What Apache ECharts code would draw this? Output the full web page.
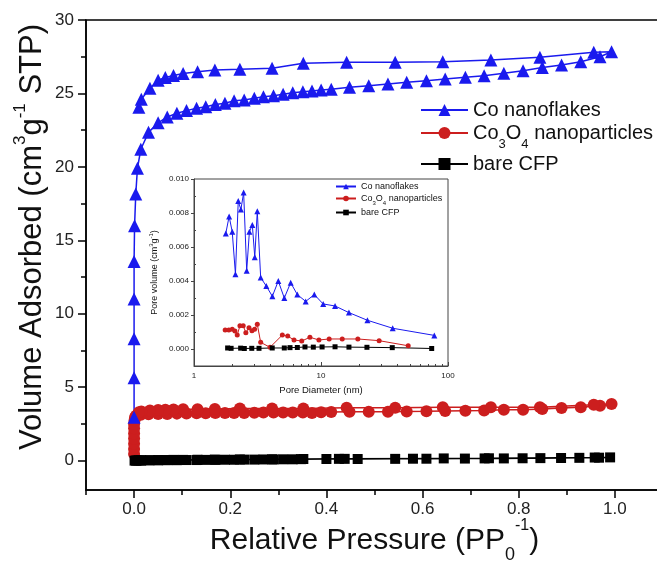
<!DOCTYPE html>
<html>
<head>
<meta charset="utf-8">
<script src="https://cdn.jsdelivr.net/npm/echarts@6/dist/echarts.min.js"></script>
<style>
  html, body { margin: 0; padding: 0; background: #fff; }
  #chart { width: 657px; height: 563px; }
</style>
</head>
<body>
<div id="chart"></div>
<script>
// ---- N2 isotherms (main plot) ----
const coAdsP = [0, 0, 0, 0, 0, 0.001, 0.0035, 0.007, 0.014, 0.03, 0.05, 0.069, 0.089, 0.109, 0.13, 0.149, 0.169, 0.189, 0.208, 0.229, 0.25, 0.269, 0.29, 0.31, 0.33, 0.351, 0.37, 0.389, 0.41, 0.448, 0.488, 0.528, 0.567, 0.608, 0.647, 0.689, 0.728, 0.769, 0.809, 0.849, 0.889, 0.929, 0.969, 0.993]
const coAdsV = [2.95, 5.65, 8.3, 11.0, 13.55, 16.0, 18.15, 19.9, 21.2, 22.35, 23.0, 23.4, 23.65, 23.83, 23.99, 24.1, 24.25, 24.33, 24.5, 24.56, 24.67, 24.78, 24.85, 24.95, 25.05, 25.12, 25.17, 25.24, 25.29, 25.42, 25.53, 25.65, 25.76, 25.87, 25.99, 26.1, 26.21, 26.37, 26.55, 26.76, 26.94, 27.16, 27.5, 27.84]
const coDesP = [0.956, 0.844, 0.742, 0.642, 0.543, 0.442, 0.352, 0.287, 0.22, 0.168, 0.132, 0.102, 0.082, 0.065, 0.05, 0.033, 0.015, 0.010]
const coDesV = [27.8, 27.46, 27.28, 27.16, 27.12, 27.12, 27.05, 26.71, 26.64, 26.6, 26.48, 26.35, 26.22, 26.08, 25.9, 25.35, 24.6, 24.06]

const oxAdsP = [0, 0, 0, 0, 0, 0, 0, 0.001, 0.002, 0.004, 0.007, 0.014, 0.03, 0.05, 0.069, 0.089, 0.109, 0.13, 0.149, 0.169, 0.189, 0.208, 0.229, 0.25, 0.269, 0.29, 0.31, 0.33, 0.351, 0.37, 0.389, 0.41, 0.448, 0.488, 0.528, 0.567, 0.608, 0.647, 0.689, 0.728, 0.769, 0.809, 0.849, 0.889, 0.929, 0.969, 0.993]
const oxAdsV = [0.45, 0.8, 1.15, 1.5, 1.85, 2.2, 2.5, 2.75, 2.95, 3.05, 3.1, 3.12, 3.15, 3.17, 3.18, 3.2, 3.21, 3.22, 3.23, 3.24, 3.24, 3.25, 3.25, 3.26, 3.27, 3.27, 3.28, 3.28, 3.28, 3.25, 3.3, 3.31, 3.32, 3.33, 3.33, 3.35, 3.36, 3.38, 3.4, 3.42, 3.47, 3.47, 3.52, 3.58, 3.63, 3.74, 3.86]
const oxDesP = [0.956, 0.844, 0.742, 0.642, 0.543, 0.442, 0.352, 0.287, 0.22, 0.168, 0.132, 0.102, 0.082, 0.065, 0.05, 0.033, 0.015, 0.010]
const oxDesV = [3.81, 3.63, 3.63, 3.63, 3.6, 3.6, 3.55, 3.55, 3.55, 3.52, 3.5, 3.5, 3.48, 3.47, 3.45, 3.42, 3.35, 3.3]

const cfpAdsP = [0.001, 0.004, 0.007, 0.014, 0.03, 0.05, 0.069, 0.089, 0.109, 0.13, 0.149, 0.169, 0.189, 0.208, 0.229, 0.25, 0.269, 0.29, 0.31, 0.33, 0.347, 0.40, 0.465, 0.543, 0.58, 0.608, 0.688, 0.729, 0.769, 0.808, 0.845, 0.888, 0.926, 0.967, 0.99]
const cfpAdsV = [0.0, 0.0, 0.01, 0.01, 0.02, 0.02, 0.03, 0.03, 0.04, 0.04, 0.05, 0.05, 0.06, 0.06, 0.07, 0.07, 0.08, 0.08, 0.09, 0.09, 0.10, 0.11, 0.11, 0.12, 0.13, 0.13, 0.14, 0.15, 0.15, 0.16, 0.17, 0.18, 0.19, 0.20, 0.22]
const cfpDesP = [0.958, 0.738, 0.644, 0.438, 0.426, 0.352, 0.287, 0.22, 0.168, 0.132, 0.102, 0.082, 0.065, 0.05, 0.033, 0.015, 0.010]
const cfpDesV = [0.21, 0.16, 0.15, 0.12, 0.12, 0.11, 0.09, 0.08, 0.07, 0.06, 0.05, 0.05, 0.04, 0.04, 0.03, 0.02, 0.02]

// ---- pore size distribution (inset) ----
const coPoreD = [1.78, 1.89, 2.0, 2.12, 2.23, 2.34, 2.46, 2.6, 2.73, 2.88, 3.01, 3.15, 3.35, 3.71, 4.14, 4.61, 5.14, 5.77, 6.51, 7.58, 8.86, 10.4, 12.9, 16.6, 23.2, 36.7, 78]
const coPoreV = [0.0068, 0.0078, 0.0069, 0.0044, 0.0087, 0.0082, 0.0092, 0.0046, 0.0069, 0.0073, 0.0054, 0.0081, 0.0042, 0.0037, 0.0031, 0.0040, 0.0030, 0.0039, 0.0032, 0.0028, 0.0032, 0.00265, 0.00253, 0.00214, 0.00169, 0.00122, 0.0008]
const oxPoreD = [1.76, 1.88, 2.0, 2.1, 2.19, 2.3, 2.44, 2.56, 2.71, 2.86, 3.0, 3.15, 3.35, 3.97, 4.96, 5.47, 6.13, 7.05, 8.18, 9.63, 11.6, 14.7, 19.5, 28.7, 48.6]
const oxPoreV = [0.00112, 0.00112, 0.00116, 0.00106, 0.00082, 0.00137, 0.00137, 0.00096, 0.00125, 0.00108, 0.00116, 0.00145, 0.00039, 0.0001, 0.00082, 0.00076, 0.00053, 0.00047, 0.00069, 0.00053, 0.00059, 0.00059, 0.00059, 0.00049, 0.00019]
const cfpPoreD = [1.84, 1.96, 2.33, 2.49, 2.85, 3.25, 4.13, 5.14, 5.7, 6.51, 7.48, 8.7, 10.2, 12.9, 16.6, 23.0, 36.4, 74.4]
const cfpPoreV = [0.00006, 0.00004, 0.00005, 0.00003, 0.00004, 0.00004, 0.00006, 0.00006, 0.00008, 0.00009, 0.00012, 0.00011, 0.00012, 0.00013, 0.00011, 0.0001, 0.00008, 0.00003]

// ---- ticks ----
const xMajor = [0, 0.2, 0.4, 0.6, 0.8, 1.0]
const xMinor = [-0.1, 0.1, 0.3, 0.5, 0.7, 0.9]
const yMajor = [0, 5, 10, 15, 20, 25, 30]
const yMinor = [2.5, 7.5, 12.5, 17.5, 22.5, 27.5]
const inXMinor = [2, 3, 4, 5, 6, 7, 8, 9, 20, 30, 40, 50, 60, 70, 80, 90]
const inYMajor = [0, 0.002, 0.004, 0.006, 0.008, 0.010]
const inYMinor = [0.001, 0.003, 0.005, 0.007, 0.009]

const names = ['Co nanoflakes', 'Co3O4 nanoparticles', 'bare CFP']

const BLUE = '#1a1aee'
const RED = '#cc1e1e'
const FONT = '"Liberation Sans", Arial, sans-serif'

const pairs = (xs, ys) => xs.map((x, i) => [x, ys[i]])
const legendName = name => name === 'Co3O4 nanoparticles'
  ? '{m|Co}{s|3}{m|O}{s|4}{m| nanoparticles}'
  : '{n|' + name + '}'

const chart = echarts.init(document.getElementById('chart'))

const minorAxis = (gridIndex, values, extra) => Object.assign({
  gridIndex,
  axisLine: { show: false, onZero: false },
  axisLabel: { show: false },
  splitLine: { show: false },
  axisTick: { customValues: values, length: 5, lineStyle: { color: '#000', width: 1.5 } },
}, extra)

// one legend per row so each row sits where the original has it
const mainLegend = (name, top) => ({
  data: [name], left: 420, top, padding: 0,
  itemWidth: 47, itemHeight: 15, selectedMode: false,
  formatter: legendName,
  textStyle: {
    rich: {
      n: { fontSize: 20, color: '#111', fontFamily: FONT, lineHeight: 24 },
      m: { fontSize: 20, color: '#111', fontFamily: FONT, lineHeight: 36 },
      s: { fontSize: 13, color: '#111', fontFamily: FONT, lineHeight: 6, verticalAlign: 'bottom' },
    },
  },
})
const insetLegend = (name, top) => ({
  data: [name], left: 335, top, padding: 0,
  itemWidth: 20, itemHeight: 7, selectedMode: false,
  formatter: legendName,
  textStyle: {
    rich: {
      n: { fontSize: 9, color: '#111', fontFamily: FONT, lineHeight: 10 },
      m: { fontSize: 9, color: '#111', fontFamily: FONT, lineHeight: 16 },
      s: { fontSize: 6, color: '#111', fontFamily: FONT, lineHeight: 3, verticalAlign: 'bottom' },
    },
  },
})

chart.setOption({
  animation: false,
  textStyle: { fontFamily: FONT },
  grid: [
    { left: 86, top: 20, width: 577, height: 470, outerBoundsMode: 'none', show: true, borderColor: '#000', borderWidth: 1.5 },
    { left: 194, top: 179, width: 254, height: 187, outerBoundsMode: 'none', show: true, borderColor: '#444', borderWidth: 1 },
  ],
  legend: [
    mainLegend(names[0], 100),
    mainLegend(names[1], 123),
    mainLegend(names[2], 154),
    insetLegend(names[0], 182),
    insetLegend(names[1], 194),
    insetLegend(names[2], 208),
  ],
  xAxis: [
    {
      type: 'value', gridIndex: 0, min: -0.1, max: 1.1,
      axisLine: { onZero: false, lineStyle: { color: '#000', width: 1.5 } },
      axisTick: { customValues: xMajor, length: 8, lineStyle: { color: '#000', width: 1.5 } },
      axisLabel: { customValues: xMajor, formatter: v => v.toFixed(1), fontSize: 17, color: '#222', margin: 11 },
      splitLine: { show: false },
      name: '{n|Relative Pressure (PP}{b|0}{p|-1}{n|)}',
      nameLocation: 'middle', nameGap: 28, nameMoveOverlap: false,
      nameTextStyle: {
        rich: {
          n: { fontSize: 30, color: '#111', fontFamily: FONT, lineHeight: 46 },
          b: { fontSize: 18, color: '#111', fontFamily: FONT, lineHeight: 10, verticalAlign: 'bottom' },
          p: { fontSize: 16, color: '#111', fontFamily: FONT, lineHeight: 14, verticalAlign: 'top' },
        },
      },
    },
    minorAxis(0, xMinor, { type: 'value', min: -0.1, max: 1.1, position: 'bottom' }),
    {
      type: 'log', gridIndex: 1, min: 1, max: 100, logBase: 10,
      axisLine: { onZero: false, lineStyle: { color: '#444', width: 1 } },
      axisTick: { inside: true, length: 4, lineStyle: { color: '#444' } },
      axisLabel: { fontSize: 8, color: '#222', margin: 6 },
      splitLine: { show: false },
      name: 'Pore Diameter (nm)', nameLocation: 'middle', nameGap: 19,
      nameTextStyle: { fontSize: 9.5, color: '#111' },
    },
    minorAxis(1, inXMinor, {
      type: 'log', min: 1, max: 100, position: 'bottom',
      axisTick: { customValues: inXMinor, inside: true, length: 2, lineStyle: { color: '#444' } },
    }),
  ],
  yAxis: [
    {
      type: 'value', gridIndex: 0, min: -2, max: 30,
      axisLine: { onZero: false, lineStyle: { color: '#000', width: 1.5 } },
      axisTick: { customValues: yMajor, length: 8, lineStyle: { color: '#000', width: 1.5 } },
      axisLabel: { customValues: yMajor, fontSize: 17, color: '#222', margin: 12 },
      splitLine: { show: false },
    },
    minorAxis(0, yMinor, { type: 'value', min: -2, max: 30, position: 'left' }),
    {
      type: 'value', gridIndex: 1, min: -0.001, max: 0.010,
      axisLine: { onZero: false, lineStyle: { color: '#444', width: 1 } },
      axisTick: { customValues: inYMajor, length: 3, lineStyle: { color: '#444' } },
      axisLabel: { customValues: inYMajor, formatter: v => v.toFixed(3), fontSize: 8, color: '#222', margin: 5 },
      splitLine: { show: false },
      name: '{n|Pore volume (cm}{p|3}{n|g}{p|-1}{n|)}',
      nameLocation: 'middle', nameGap: 32, nameRotate: 90,
      nameTextStyle: {
        rich: {
          n: { fontSize: 9, color: '#111', fontFamily: FONT, lineHeight: 14 },
          p: { fontSize: 6, color: '#111', fontFamily: FONT, lineHeight: 6, verticalAlign: 'top' },
        },
      },
    },
    minorAxis(1, inYMinor, {
      type: 'value', min: -0.001, max: 0.010, position: 'left',
      axisTick: { customValues: inYMinor, inside: true, length: 2, lineStyle: { color: '#444' } },
    }),
  ],
  graphic: [
    {
      type: 'text', x: 32, y: 237, rotation: Math.PI / 2,
      style: {
        text: '{n|Volume Adsorbed (cm}{p|3}{n|g}{p|-1}{n| STP)}',
        align: 'center', verticalAlign: 'middle',
        rich: {
          n: { fontSize: 31, fill: '#111', fontFamily: FONT, lineHeight: 40 },
          p: { fontSize: 17, fill: '#111', fontFamily: FONT, lineHeight: 14, verticalAlign: 'top' },
        },
      },
    },
  ],
  series: [
    {
      name: names[1], type: 'line', xAxisIndex: 0, yAxisIndex: 0,
      data: pairs(oxAdsP, oxAdsV).concat(pairs(oxDesP, oxDesV)),
      symbol: 'circle', symbolSize: 12,
      lineStyle: { color: RED, width: 1.5 }, itemStyle: { color: RED },
    },
    {
      name: names[2], type: 'line', xAxisIndex: 0, yAxisIndex: 0,
      data: pairs(cfpAdsP, cfpAdsV).concat(pairs(cfpDesP, cfpDesV)),
      symbol: 'rect', symbolSize: 10,
      lineStyle: { color: '#000', width: 1.5 }, itemStyle: { color: '#000' },
    },
    {
      name: names[0], type: 'line', xAxisIndex: 0, yAxisIndex: 0,
      data: pairs(coAdsP, coAdsV).concat(pairs(coDesP, coDesV)),
      symbol: 'triangle', symbolSize: 13,
      lineStyle: { color: BLUE, width: 1.5 }, itemStyle: { color: BLUE },
    },
    {
      name: names[0], type: 'line', xAxisIndex: 2, yAxisIndex: 2,
      data: pairs(coPoreD, coPoreV),
      symbol: 'triangle', symbolSize: 6,
      lineStyle: { color: BLUE, width: 1 }, itemStyle: { color: BLUE },
    },
    {
      name: names[1], type: 'line', xAxisIndex: 2, yAxisIndex: 2,
      data: pairs(oxPoreD, oxPoreV),
      symbol: 'circle', symbolSize: 5,
      lineStyle: { color: RED, width: 1 }, itemStyle: { color: RED },
    },
    {
      name: names[2], type: 'line', xAxisIndex: 2, yAxisIndex: 2,
      data: pairs(cfpPoreD, cfpPoreV),
      symbol: 'rect', symbolSize: 5,
      lineStyle: { color: '#000', width: 1 }, itemStyle: { color: '#000' },
    },
  ],
})
</script>
</body>
</html>
